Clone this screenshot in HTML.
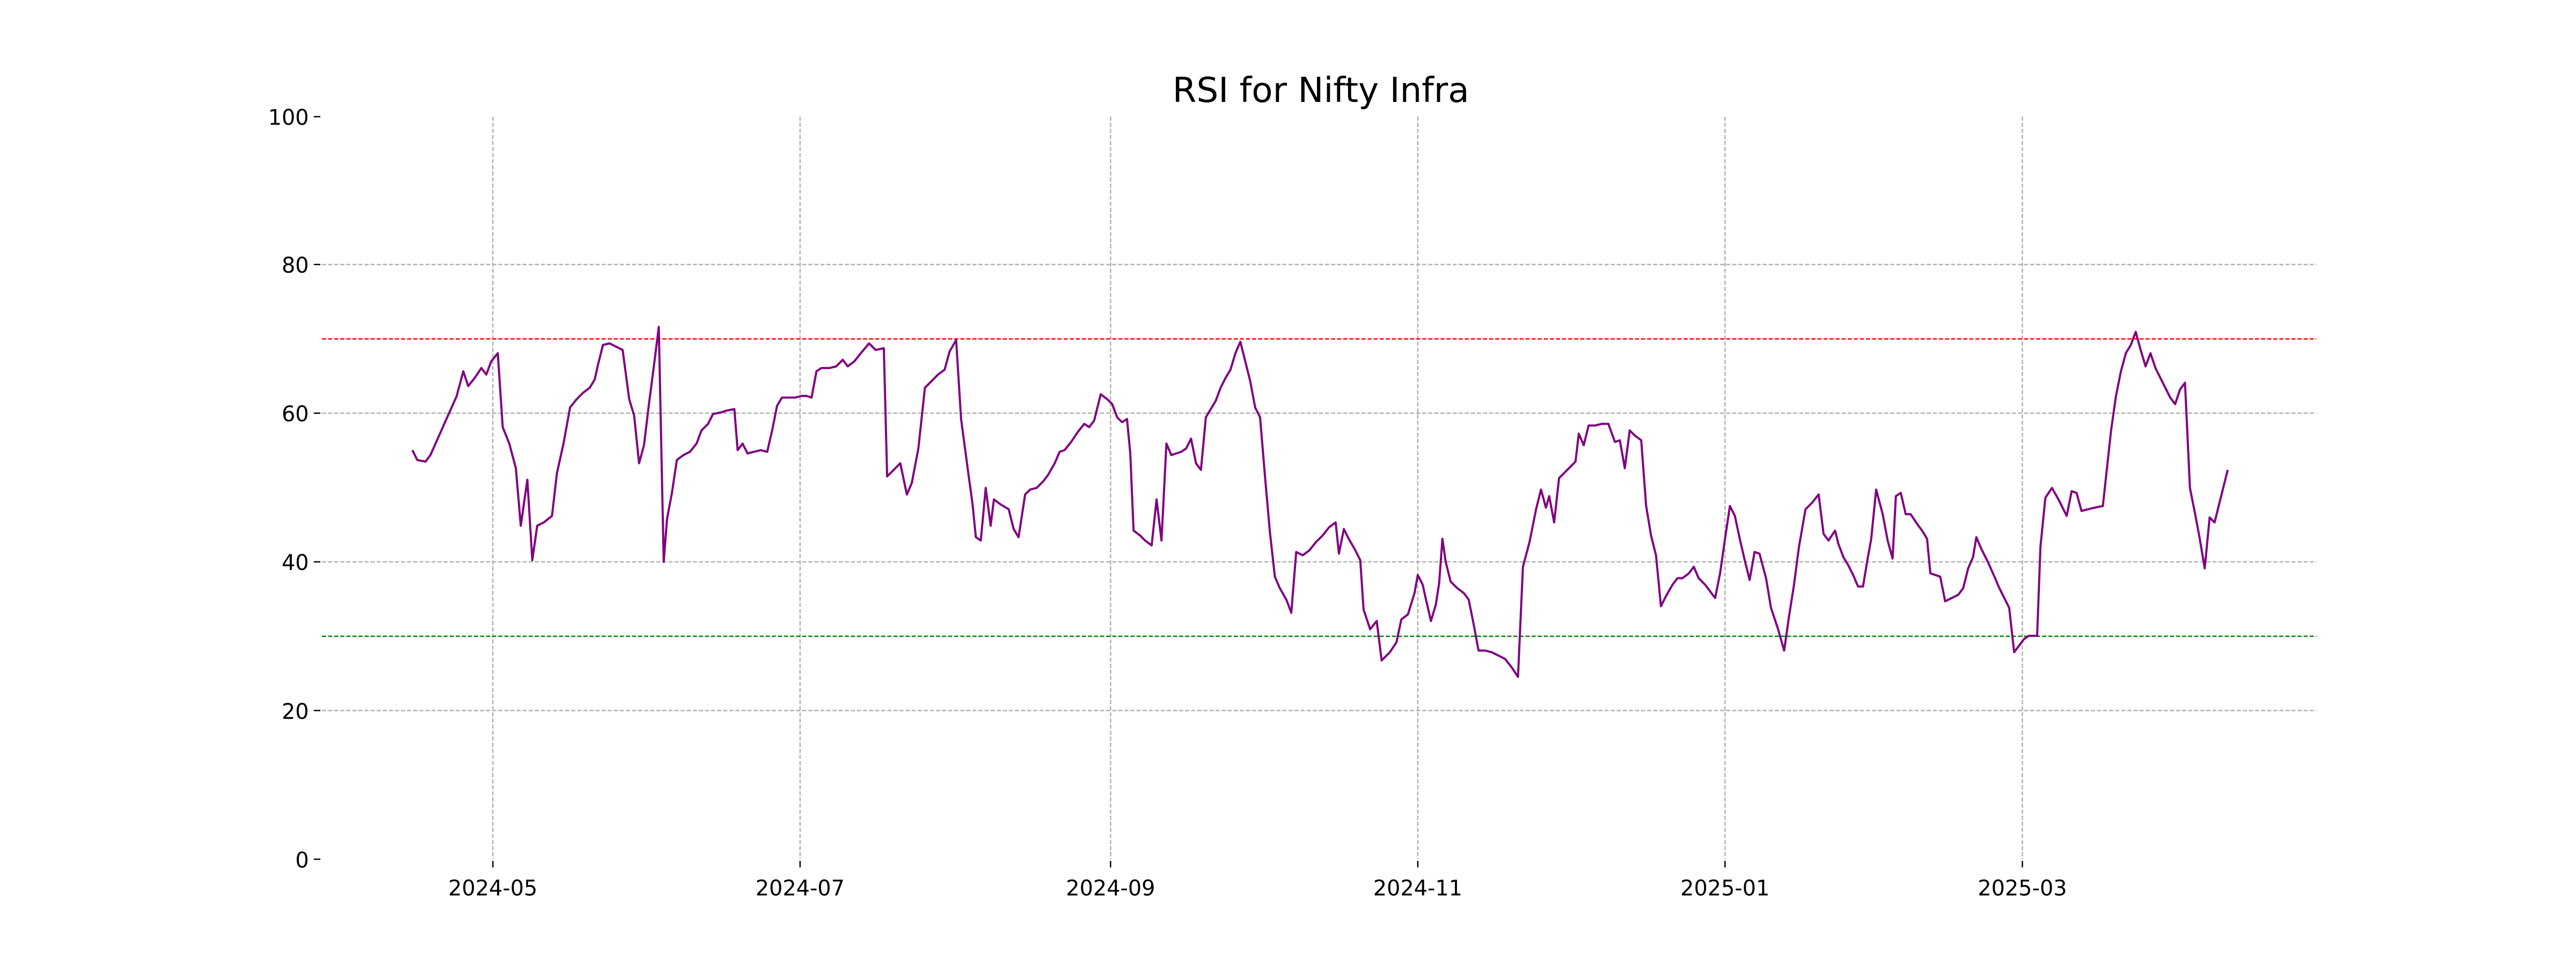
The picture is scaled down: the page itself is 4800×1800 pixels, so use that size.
<!DOCTYPE html>
<html><head><meta charset="utf-8"><style>html,body{margin:0;padding:0;background:#fff}svg{display:block}</style></head>
<body>
<svg width="4800" height="1800" viewBox="0 0 1568 588" xmlns="http://www.w3.org/2000/svg" font-family="'DejaVu Sans','Liberation Sans',sans-serif">
<rect width="1568" height="588" fill="#fff"/>
<g stroke="#b0b0b0" stroke-width="0.8" stroke-dasharray="2.5,1.2" fill="none">
<line x1="196" y1="161" x2="1410" y2="161"/>
<line x1="196" y1="251.5" x2="1410" y2="251.5"/>
<line x1="196" y1="342" x2="1410" y2="342"/>
<line x1="196" y1="432.5" x2="1410" y2="432.5"/>
<line x1="300" y1="71" x2="300" y2="523"/>
<line x1="487" y1="71" x2="487" y2="523"/>
<line x1="676" y1="71" x2="676" y2="523"/>
<line x1="863" y1="71" x2="863" y2="523"/>
<line x1="1050" y1="71" x2="1050" y2="523"/>
<line x1="1231" y1="71" x2="1231" y2="523"/>
</g>
<line x1="196" y1="206.3" x2="1410" y2="206.3" stroke="#ff0000" stroke-width="0.8" stroke-dasharray="2.5,1.2"/>
<line x1="196" y1="387.3" x2="1410" y2="387.3" stroke="#008000" stroke-width="0.8" stroke-dasharray="2.5,1.2"/>
<polyline fill="none" stroke="#800080" stroke-width="1.3" stroke-linejoin="round" points="251,274 254,280 259,281 262,277 266,268 270,259 274,250 278,241 282,226 285,235 289,230 293,224 296,228 299,220 303,215 306,260 310,270 314,285 317,320 321,292 324,341 327,320 331,318 336,314 339,288 343,270 347,248 351,243 355,239 359,236 362,231 364,222 367,210 371,209 375,211 379,213 381,228 383,243 386,253 389,282 392,271 395,246 398,223 401,199 404,342 406,316 409,300 412,280 416,277 420,275 424,270 427,262 431,258 434,252 439,251 442,250 447,249 449,274 452,270 455,276 459,275 463,274 467,275 470,262 473,247 476,242 480,242 484,242 488,241 491,241 494,242 497,226 500,224 505,224 509,223 513,219 516,223 520,220 524,215 529,209 533,213 538,212 540,290 544,286 548,282 552,301 555,294 559,273 563,236 567,232 571,228 575,225 578,214 582,207 585,255 589,285 592,307 594,327 597,329 600,297 603,320 605,304 609,307 614,310 617,322 620,327 624,301 627,298 631,297 635,293 638,289 642,282 645,275 648,274 652,269 656,263 660,258 663,260 666,256 670,240 674,243 677,246 680,254 683,257 686,255 688,276 690,323 694,326 697,329 701,332 704,304 707,329 710,270 713,277 716,276 719,275 722,273 725,267 728,282 731,286 734,254 737,249 740,244 743,236 746,230 749,225 752,215 755,208 758,220 761,232 764,248 767,254 770,290 773,324 776,351 779,358 783,365 786,373 789,336 793,338 797,335 801,330 805,326 809,321 813,318 815,337 818,322 821,328 825,335 828,341 830,371 834,383 838,378 841,402 846,397 850,391 853,377 857,374 861,361 863,350 866,356 868,365 871,378 874,368 876,355 878,328 880,342 883,354 887,358 891,361 894,365 897,380 900,396 904,396 908,397 912,399 916,401 920,406 924,412 927,345 931,330 935,310 938,298 941,309 943,302 946,318 949,291 952,288 955,285 959,281 961,264 964,271 967,259 971,259 975,258 979,258 983,269 986,268 989,285 992,262 995,265 999,268 1002,308 1005,326 1008,338 1011,369 1014,363 1018,356 1021,352 1024,352 1028,349 1031,345 1034,352 1038,356 1041,360 1044,364 1047,349 1050,328 1053,308 1056,314 1059,328 1062,341 1065,353 1068,336 1071,337 1075,352 1078,370 1082,382 1086,396 1089,375 1092,356 1095,333 1099,310 1103,306 1107,301 1110,325 1113,329 1117,323 1119,331 1122,339 1125,344 1128,350 1131,357 1134,357 1137,339 1139,328 1142,298 1146,313 1149,329 1152,340 1154,302 1157,300 1160,313 1163,313 1167,319 1170,323 1173,328 1175,349 1178,350 1181,351 1184,366 1188,364 1192,362 1195,358 1198,346 1201,339 1203,327 1206,334 1210,342 1214,351 1217,358 1220,364 1223,370 1226,397 1229,393 1232,389 1235,387 1240,387 1242,333 1245,303 1249,297 1253,304 1258,314 1261,299 1264,300 1267,311 1271,310 1275,309 1280,308 1285,262 1288,241 1291,226 1294,215 1297,210 1300,202 1303,213 1306,223 1309,215 1312,224 1315,230 1318,236 1321,242 1324,246 1327,237 1330,233 1333,297 1336,312 1339,328 1342,346 1345,315 1348,318 1352,302 1356,286"/>
<g stroke="#000" stroke-width="0.8">
<line x1="191" y1="71" x2="195" y2="71"/><line x1="191" y1="161" x2="195" y2="161"/><line x1="191" y1="251.5" x2="195" y2="251.5"/><line x1="191" y1="342" x2="195" y2="342"/><line x1="191" y1="432.5" x2="195" y2="432.5"/><line x1="191" y1="523" x2="195" y2="523"/>
<line x1="300" y1="524" x2="300" y2="528"/><line x1="487" y1="524" x2="487" y2="528"/><line x1="676" y1="524" x2="676" y2="528"/><line x1="863" y1="524" x2="863" y2="528"/><line x1="1050" y1="524" x2="1050" y2="528"/><line x1="1231" y1="524" x2="1231" y2="528"/>
</g>
<g font-size="13" fill="#000" text-anchor="end">
<text x="188" y="76">100</text><text x="188" y="166">80</text><text x="188" y="256.5">60</text><text x="188" y="347">40</text><text x="188" y="437.5">20</text><text x="188" y="528">0</text>
</g>
<g font-size="13" fill="#000" text-anchor="middle">
<text x="300" y="545">2024-05</text><text x="487" y="545">2024-07</text><text x="676" y="545">2024-09</text><text x="863" y="545">2024-11</text><text x="1050" y="545">2025-01</text><text x="1231" y="545">2025-03</text>
</g>
<text x="804" y="62" font-size="21" text-anchor="middle" fill="#000">RSI for Nifty Infra</text>
</svg>
</body></html>
